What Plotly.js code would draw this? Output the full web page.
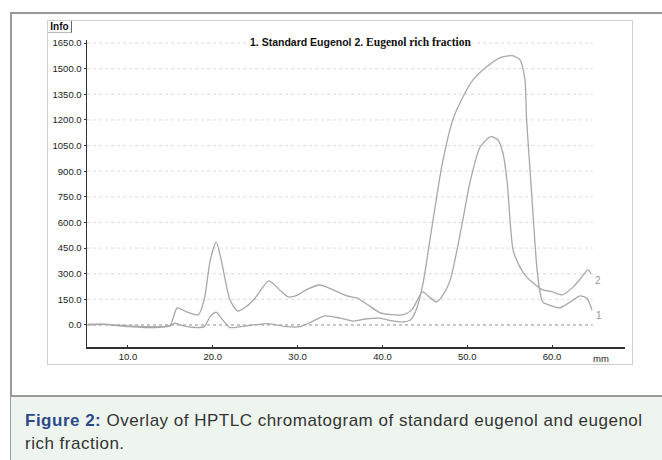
<!DOCTYPE html>
<html>
<head>
<meta charset="utf-8">
<script src="https://cdn.plot.ly/plotly-3.0.1.min.js"></script>
<style>
  html, body { margin:0; padding:0; background:#fff; }
  #wrap { position:relative; width:662px; height:460px; overflow:hidden; }
  #outer { position:absolute; left:10px; top:12px; width:660px; height:460px; border-top:2px solid #9a9a9a; border-left:2px solid #9a9a9a; }
  #panel { position:absolute; left:47px; top:20px; width:584px; height:343px; border:1px solid #d0d0d0; }
  #info { position:absolute; left:48px; top:21px; width:23px; height:11px; border-right:1px solid #666; border-bottom:1px solid #bbb;
          font-family:"Liberation Sans", Arial, sans-serif; font-size:10px; font-weight:bold; line-height:11px; color:#111; text-align:center; }
  #caption { position:absolute; left:11px; top:395px; width:660px; height:70px; background:#eef5ef; border-top:2px solid #9a9a9a;
             font-family:Arial, "Liberation Sans", sans-serif; font-size:17px; letter-spacing:0.5px; line-height:23px; color:#333; padding:12px 0 0 14px; box-sizing:border-box; }
  #caption b { color:#2b4a8a; }
  #chart { position:absolute; left:0; top:0; width:662px; height:460px; }
</style>
</head>
<body>
<div id="wrap">
  <div id="outer"></div>
  <div id="panel"></div>
  <div id="info">Info</div>
  <div id="caption"><b>Figure 2:</b> Overlay of HPTLC chromatogram of standard eugenol and eugenol<br>rich fraction.</div>
  <div id="chart"></div>
</div>
<script>
// Track 1: Standard Eugenol
const x1 = [5.3, 7, 10, 12, 14, 15, 15.5, 16.5, 18, 19, 19.7, 20.4, 21, 22, 24, 26.5, 28.7, 30.3, 31.5, 33.2, 35, 36.5, 38, 39.7, 41, 42.5, 43.3, 43.6, 44.1, 44.8, 45.6, 46.4, 47, 48.3, 49.5, 50.7, 52.3, 53.9, 55.3, 56.2, 56.8, 57, 57.4, 57.8, 58.2, 58.6, 58.9, 60, 60.9, 62, 63.3, 64.1, 64.7];
const y1 = [0, 3, -10, -15, -12, -5, 10, -5, -15, -10, 50, 75, 40, -15, -5, 8, -10, -10, 15, 53, 40, 23, 35, 40, 25, 18, 29, 47, 105, 246, 498, 750, 930, 1201, 1336, 1436, 1512, 1565, 1576, 1553, 1436, 1201, 908, 615, 340, 188, 135, 110, 100, 130, 170, 158, 88];
// Track 2: Eugenol rich fraction
const x2 = [5.3, 7, 10, 12, 14, 15, 15.8, 17, 18.3, 19, 19.7, 20.4, 21, 22, 22.9, 24, 25, 26.6, 28, 28.9, 30, 31, 32.6, 34, 35.8, 37, 38.5, 39.7, 41, 42.5, 43.5, 44.7, 45.5, 46.4, 47.2, 48, 48.8, 49.5, 50.3, 51.5, 52.5, 52.9, 53.6, 54.2, 54.7, 55.4, 56.2, 57, 57.8, 58.9, 60, 61.2, 62.5, 63.5, 64.2, 64.6];
const y2 = [5, 5, -5, -10, -10, 0, 100, 75, 60, 150, 380, 486, 380, 150, 82, 110, 158, 258, 200, 164, 175, 205, 234, 210, 170, 158, 110, 72, 60, 60, 90, 193, 165, 135, 180, 264, 440, 620, 830, 1040, 1095, 1102, 1084, 1008, 840, 440, 340, 280, 246, 205, 195, 176, 223, 280, 322, 300];
const yTicks = [0, 150, 300, 450, 600, 750, 900, 1050, 1200, 1350, 1500, 1650];
const xTicks = [10, 20, 30, 40, 50, 60];
const trackLabels = ['1', '2'];
const titleA = '1. Standard Eugenol 2. ';
const titleB = 'Eugenol rich fraction';

const xMin = 5.17, xMax = 68.6, yMin = -129, yMax = 1668, gridEnd = 64.8;
const lineStyle = {color:'#a8a8a8', width:1.3, shape:'spline', smoothing:0.6};
const traces = [
  {x:x1, y:y1, mode:'lines', line:lineStyle, hoverinfo:'skip'},
  {x:x2, y:y2, mode:'lines', line:lineStyle, hoverinfo:'skip'}
];
const shapes = yTicks.map(v => ({type:'line', xref:'x', yref:'y', x0:xMin, x1:gridEnd, y0:v, y1:v,
  line:{color: v===0 ? '#909090' : '#dcdcdc', width:1, dash:'dot'}, layer:'below'}));
const tickFont = {family:'"Liberation Sans", Arial, sans-serif', size:9.5, color:'#222'};
const annotations = [
  {xref:'paper', yref:'paper', x:(360-87)/538, y:(347-42)/307, xanchor:'center', yanchor:'middle',
   text:'<b>'+titleA+'</b><span style="font-family:\'Liberation Serif\', \'Times New Roman\', serif;font-size:11.5px"><b>'+titleB+'</b></span>',
   showarrow:false, bgcolor:'#fff', font:{family:'"Liberation Sans", Arial', size:10.5, color:'#111'}},
  {xref:'paper', yref:'paper', x:(601-87)/538, y:(347-358)/307, xanchor:'center', yanchor:'middle', text:'mm', showarrow:false, font:tickFont},
  {xref:'x', yref:'y', x:65.5, y:55, xanchor:'center', yanchor:'middle', text:trackLabels[0], showarrow:false, font:{family:'"Liberation Sans", Arial', size:10, color:'#999'}},
  {xref:'x', yref:'y', x:65.4, y:258, xanchor:'center', yanchor:'middle', text:trackLabels[1], showarrow:false, font:{family:'"Liberation Sans", Arial', size:10, color:'#999'}}
];
const layout = {
  width:662, height:460,
  margin:{l:87, r:37, t:40, b:113},
  paper_bgcolor:'rgba(0,0,0,0)', plot_bgcolor:'rgba(0,0,0,0)',
  showlegend:false,
  xaxis:{range:[xMin, xMax], tickvals:xTicks, ticktext:xTicks.map(v=>v.toFixed(1)), showgrid:false, zeroline:false,
    showline:true, linecolor:'#333', linewidth:1.5, ticks:'inside', ticklen:2, tickcolor:'#333', tickfont:tickFont, fixedrange:true},
  yaxis:{range:[yMin, yMax], tickvals:yTicks, ticktext:yTicks.map(v=>v.toFixed(1)), showgrid:false, zeroline:false,
    showline:true, linecolor:'#333', linewidth:1.5, ticks:'outside', ticklen:2, tickcolor:'#333', tickfont:tickFont, fixedrange:true},
  shapes:shapes, annotations:annotations
};
Plotly.newPlot('chart', traces, layout, {displayModeBar:false, staticPlot:true});
</script>
</body>
</html>
